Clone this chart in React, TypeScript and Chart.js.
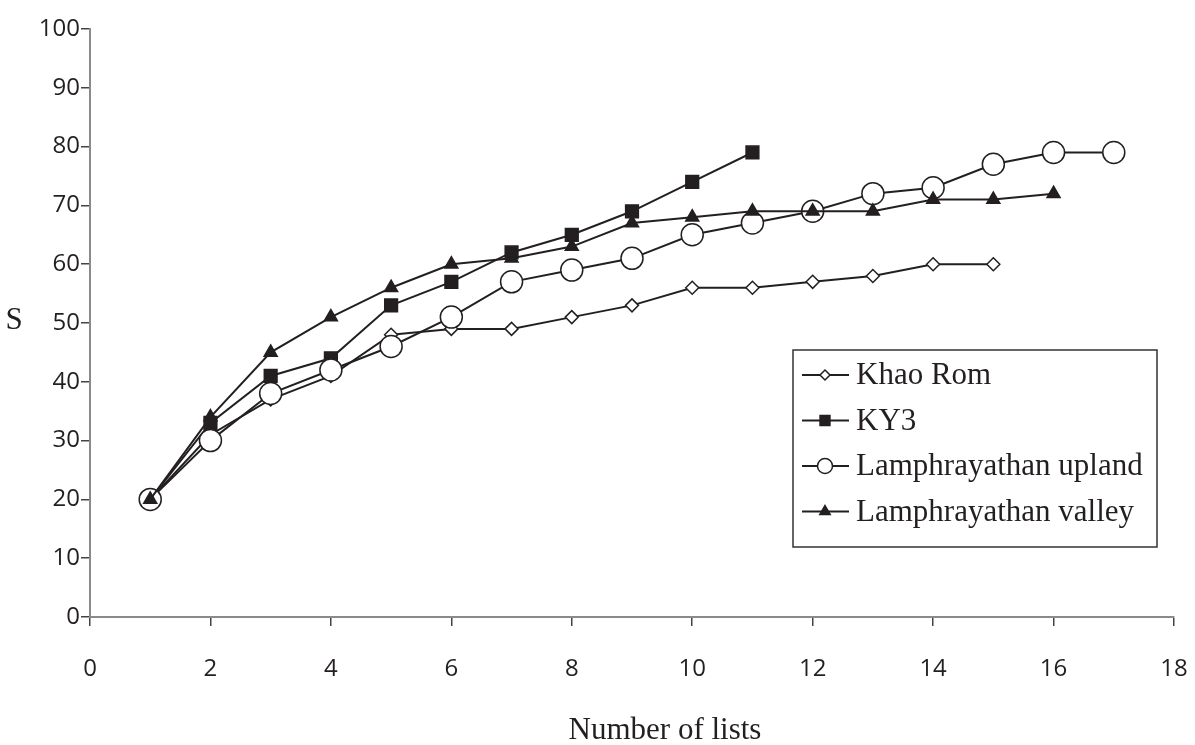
import React, { useEffect, useRef } from "react";
import { Chart, registerables } from "chart.js";

Chart.register(...registerables);

const listNumbers = [1, 2, 3, 4, 5, 6, 7, 8, 9, 10, 11, 12, 13, 14, 15, 16, 17];
const khaoRom = [20, 31, 37, 41, 48, 49, 49, 51, 53, 56, 56, 57, 58, 60, 60];
const ky3 = [20, 33, 41, 44, 53, 57, 62, 65, 69, 74, 79];
const upland = [20, 30, 38, 42, 46, 51, 57, 59, 61, 65, 67, 69, 72, 73, 77, 79, 79];
const valley = [20, 34, 45, 51, 56, 60, 61, 63, 67, 68, 69, 69, 69, 71, 71, 72];
const seriesNames = ["Khao Rom", "KY3", "Lamphrayathan upland", "Lamphrayathan valley"];
const xTickValues = [0, 2, 4, 6, 8, 10, 12, 14, 16, 18];
const yTickValues = [0, 10, 20, 30, 40, 50, 60, 70, 80, 90, 100];
const xTitle = "Number of lists";
const yTitle = "S";

const INK = "#231f20";
const SERIF = "'Liberation Serif', 'Times New Roman', serif";
const SANS = "'Open Sans', 'Noto Sans', sans-serif";

const toPoints = (vals: number[]) => vals.map((v, i) => ({ x: listNumbers[i], y: v }));

const markerSpecs = [
  { style: "rectRot", fill: "#ffffff", r: 6.5, lr: 5 },
  { style: "rect", fill: INK, r: 9, lr: 7 },
  { style: "circle", fill: "#ffffff", r: 11, lr: 7.5 },
  { style: "triangle", fill: INK, r: 7.5, lr: 6 },
];

function drawMarker(ctx: CanvasRenderingContext2D, style: string, r: number, x: number, y: number) {
  ctx.beginPath();
  if (style === "rectRot") {
    ctx.moveTo(x, y - r);
    ctx.lineTo(x + r, y);
    ctx.lineTo(x, y + r);
    ctx.lineTo(x - r, y);
    ctx.closePath();
  } else if (style === "rect") {
    const s = r * Math.SQRT1_2;
    ctx.rect(x - s, y - s, 2 * s, 2 * s);
  } else if (style === "circle") {
    ctx.arc(x, y, r, 0, Math.PI * 2);
  } else {
    const w = (r * Math.sqrt(3)) / 2;
    ctx.moveTo(x, y - r);
    ctx.lineTo(x + w, y + r / 2);
    ctx.lineTo(x - w, y + r / 2);
    ctx.closePath();
  }
  ctx.fill();
  ctx.stroke();
}

const overlayPlugin = {
  id: "overlay",
  afterDraw(chart: any) {
    const ctx = chart.ctx;
    const area = chart.chartArea;
    ctx.save();
    ctx.fillStyle = INK;
    ctx.font = `31px ${SERIF}`;
    ctx.textAlign = "center";
    ctx.textBaseline = "middle";
    ctx.fillText(yTitle, 14, (area.top + area.bottom) / 2 - 2);
    ctx.fillText(xTitle, (area.left + area.right) / 2 + 33, 731);

    const bx = 793, by = 350, bw = 364, bh = 197;
    ctx.strokeStyle = "#333";
    ctx.lineWidth = 1.5;
    ctx.strokeRect(bx, by, bw, bh);
    chart.data.datasets.forEach((ds: any, i: number) => {
      const cy = 375 + i * 45.5;
      ctx.strokeStyle = INK;
      ctx.lineWidth = 2;
      ctx.beginPath();
      ctx.moveTo(802, cy);
      ctx.lineTo(849, cy);
      ctx.stroke();
      const m = markerSpecs[i];
      ctx.fillStyle = m.fill;
      ctx.strokeStyle = INK;
      ctx.lineWidth = 1.5;
      drawMarker(ctx, m.style, m.lr, 825, cy);
      ctx.fillStyle = INK;
      ctx.font = `31px ${SERIF}`;
      ctx.textAlign = "left";
      ctx.textBaseline = "middle";
      ctx.fillText(ds.label, 856, cy + 1);
    });
    ctx.restore();
  },
};

export default function App() {
  const ref = useRef<HTMLCanvasElement | null>(null);

  useEffect(() => {
    if (!ref.current) return;
    const seriesValues = [khaoRom, ky3, upland, valley];
    const orders = [3, 2, 1, 0];
    const datasets = seriesValues.map((vals, i) => ({
      label: seriesNames[i],
      data: toPoints(vals),
      borderColor: INK,
      borderWidth: 2,
      pointStyle: markerSpecs[i].style,
      pointRadius: markerSpecs[i].r,
      pointHoverRadius: markerSpecs[i].r,
      pointBackgroundColor: markerSpecs[i].fill,
      pointBorderColor: INK,
      pointBorderWidth: 1.5,
      tension: 0,
      fill: false,
      order: orders[i],
    }));

    const chart = new Chart(ref.current, {
      type: "line",
      data: { datasets },
      options: {
        animation: false,
        responsive: false,
        maintainAspectRatio: false,
        events: [],
        layout: { padding: { left: 0, right: 21, top: 29, bottom: 0 } },
        plugins: {
          legend: { display: false },
          tooltip: { enabled: false },
          title: { display: false },
        },
        scales: {
          x: {
            type: "linear",
            min: 0,
            max: 18,
            afterBuildTicks: (scale: any) => {
              scale.ticks = xTickValues.map((v) => ({ value: v }));
            },
            afterFit: (scale: any) => {
              scale.height = 128;
              scale.paddingLeft = 0;
              scale.paddingRight = 0;
            },
            border: { display: true, color: "#8a8a8a", width: 2 },
            grid: {
              drawOnChartArea: false,
              drawTicks: true,
              tickLength: 9,
              color: "#444",
              lineWidth: 1.5,
            },
            ticks: {
              padding: 29,
              color: INK,
              font: { family: SANS, size: 24 },
              maxRotation: 0,
            },
          },
          y: {
            type: "linear",
            min: 0,
            max: 100,
            afterBuildTicks: (scale: any) => {
              scale.ticks = yTickValues.map((v) => ({ value: v }));
            },
            afterFit: (scale: any) => {
              scale.width = 90;
              scale.paddingTop = 0;
              scale.paddingBottom = 0;
            },
            border: { display: true, color: "#8a8a8a", width: 2 },
            grid: {
              drawOnChartArea: false,
              drawTicks: true,
              tickLength: 9,
              color: "#444",
              lineWidth: 1.5,
            },
            ticks: {
              padding: 1,
              color: INK,
              font: { family: SANS, size: 24 },
            },
          },
        },
      },
      plugins: [overlayPlugin],
    } as any);

    return () => chart.destroy();
  }, []);

  return (
    <div
      style={{
        position: "fixed",
        left: 0,
        top: 0,
        width: 1195,
        height: 745,
        background: "#ffffff",
      }}
    >
      <canvas ref={ref} width={1195} height={745} style={{ display: "block", width: 1195, height: 745 }} />
    </div>
  );
}
